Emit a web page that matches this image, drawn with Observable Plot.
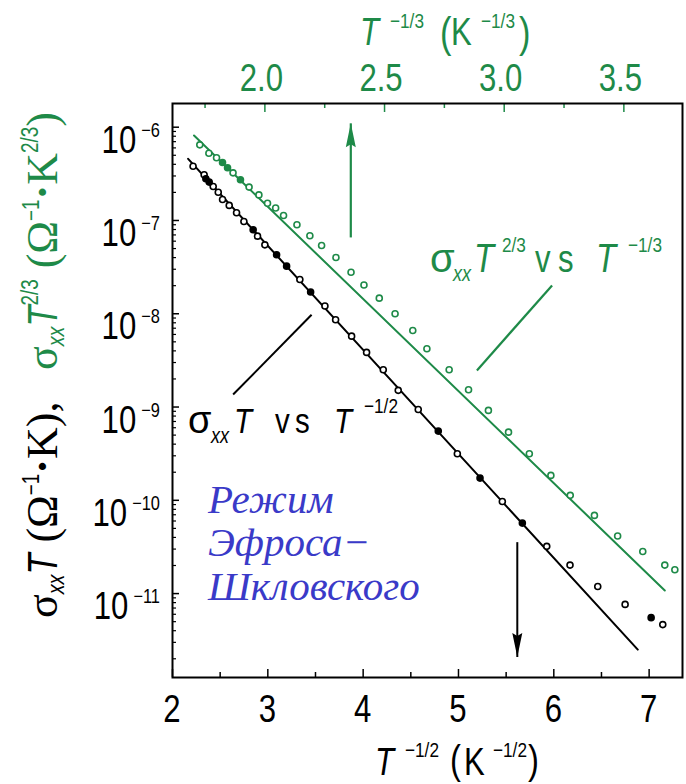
<!DOCTYPE html>
<html><head><meta charset="utf-8">
<script src="https://cdn.jsdelivr.net/npm/d3@7"></script>
<script src="https://cdn.jsdelivr.net/npm/@observablehq/plot@0.6"></script>
<style>
html,body{margin:0;padding:0;background:#fff;}
#chart svg{display:block;}
</style></head><body><div id="chart"></div>
<script>
const GREEN = "#1e8a48";
const BLUE = "#3a3ac8";
const SANS = '"Liberation Sans", Arial, sans-serif';
const SERIF = '"Liberation Serif", "Times New Roman", serif';
const NARROW_SCALE = 0.82; // condensed look for the sans lettering

// σxx·T (Ω⁻¹·K) against T^-1/2 (K^-1/2), bottom axis
const esX = [2.216,2.332,2.350,2.385,2.427,2.480,2.525,2.595,2.672,2.749,2.846,2.892,2.969,3.092,3.197,3.336,3.449,3.599,3.711,3.879,4.036,4.211,4.368,4.578,4.788,4.988,5.226,5.460,5.670,5.926,6.170,6.461,6.748,7.021,7.143];
const esY = [3.82e-7,3.09e-7,2.80e-7,2.58e-7,2.31e-7,2.01e-7,1.68e-7,1.45e-7,1.21e-7,9.75e-8,7.94e-8,6.79e-8,5.48e-8,4.29e-8,3.24e-8,2.33e-8,1.71e-8,1.21e-8,8.63e-9,5.75e-9,3.85e-9,2.51e-9,1.51e-9,9.42e-10,5.52e-10,3.16e-10,1.73e-10,9.72e-11,5.70e-11,3.21e-11,2.02e-11,1.19e-11,7.66e-12,5.52e-12,4.65e-12];
const esRun = ["a","a","b","b","a","a","a","a","a","a","b","a","a","b","b","a","b","a","a","a","a","a","a","a","b","a","b","a","b","a","a","a","a","b","a"];
// straight-line fit of the σxx·T data
const esFitX = [2.164, 6.881];
const esFitY = [4.58e-7, 2.51e-12];

// σxx·T^2/3 (Ω⁻¹·K^2/3) against T^-1/3 (K^-1/3), top axis
const mX = [1.728,1.766,1.798,1.823,1.844,1.867,1.898,1.934,1.975,2.011,2.045,2.078,2.134,2.188,2.237,2.297,2.360,2.414,2.478,2.544,2.618,2.677,2.770,2.851,2.934,3.018,3.105,3.195,3.276,3.377,3.474,3.579,3.671,3.713];
const mY = [6.47e-7,5.26e-7,4.70e-7,4.19e-7,3.67e-7,3.24e-7,2.73e-7,2.28e-7,1.88e-7,1.53e-7,1.36e-7,1.13e-7,8.99e-8,6.85e-8,5.40e-8,4.01e-8,2.79e-8,2.03e-8,1.47e-8,1.00e-8,6.62e-9,4.22e-9,2.51e-9,1.53e-9,9.20e-10,5.38e-10,3.16e-10,1.85e-10,1.13e-10,6.89e-11,4.14e-11,2.83e-11,2.02e-11,1.80e-11];
const mRun = ["a","a","a","b","b","a","b","a","a","a","a","a","a","a","a","a","a","a","a","a","a","a","a","a","a","a","a","a","a","a","a","a","a","a"];
const mFitX = [1.704, 3.671];
const mFitY = [8.15e-7, 1.08e-11];

// axis extents and ticks
const xDomain = [2, 7.35];
const topDomain = [1.614, 3.745];
const yDomain = [1.26e-12, 1.795e-6];
const xTicks = [2, 3, 4, 5, 6, 7];
const xMinor = [2.5, 3.5, 4.5, 5.5, 6.5];
const topTicks = [2.0, 2.5, 3.0, 3.5];
const topMinor = [1.75, 2.25, 2.75, 3.25];
const yTicks = [1e-6, 1e-7, 1e-8, 1e-9, 1e-10, 1e-11];

// annotation arrows (which axis applies) and leader lines
const upArrow = {x: 2.359, y1: 6.58e-8, y2: 1.10e-6};      // top-axis units
const downArrow = {x: 5.617, y1: 3.56e-11, y2: 2.09e-12};  // bottom-axis units
const esLeader = {x1: 2.636, y1: 1.36e-9, x2: 3.459, y2: 9.75e-9};
const mLeader = {x1: 2.886, y1: 2.47e-9, x2: 3.200, y2: 2.01e-8};

// the top axis is linear in T^-1/3 and shares the frame with the bottom axis
const toBottom = v => xDomain[0] + (v - topDomain[0]) * (xDomain[1] - xDomain[0]) / (topDomain[1] - topDomain[0]);

const W = 686, H = 784, ML = 172, MR = 4, MT = 103, MB = 107;
const FW = W - ML - MR, FH = H - MT - MB;

const yMinor = [];
for (let e = -12; e <= -6; e++) for (let k = 2; k <= 9; k++) {
  const v = k * Math.pow(10, e);
  if (v > yDomain[0] && v < yDomain[1]) yMinor.push(v);
}

const es = esX.map((x, i) => ({x, y: esY[i], run: esRun[i]}));
const mt = mX.map((v, i) => ({x: toBottom(v), y: mY[i], run: mRun[i]}));
const esFit = esFitX.map((x, i) => ({x, y: esFitY[i]}));
const mFit = mFitX.map((v, i) => ({x: toBottom(v), y: mFitY[i]}));

// narrow filled arrowhead, tip at the anchor, pointing up
const arrowHead = {draw(ctx) { ctx.moveTo(0, 0); ctx.lineTo(5, 24); ctx.lineTo(0, 21); ctx.lineTo(-5, 24); ctx.closePath(); }};

const chart = Plot.plot({
  width: W, height: H,
  marginLeft: ML, marginRight: MR, marginTop: MT, marginBottom: MB,
  x: {domain: xDomain, axis: null},
  y: {type: "log", domain: yDomain, axis: null},
  style: {background: "white", fontFamily: SANS},
  marks: [
    // ticks drawn inward from the frame
    Plot.tickY(yTicks, {y: d => d, insetRight: FW - 7, stroke: "black", strokeWidth: 1.5}),
    Plot.tickY(yMinor, {y: d => d, insetRight: FW - 4, stroke: "black", strokeWidth: 1.2}),
    Plot.tickX(xTicks, {x: d => d, insetTop: FH - 8, stroke: "black", strokeWidth: 1.5}),
    Plot.tickX(xMinor, {x: d => d, insetTop: FH - 5, stroke: "black", strokeWidth: 1.5}),
    Plot.tickX(topTicks, {x: toBottom, insetBottom: FH - 9, stroke: GREEN, strokeWidth: 1.5}),
    Plot.tickX(topMinor, {x: toBottom, insetBottom: FH - 5, stroke: GREEN, strokeWidth: 1.5}),
    // fits
    Plot.line(esFit, {x: "x", y: "y", stroke: "black", strokeWidth: 2}),
    Plot.line(mFit, {x: "x", y: "y", stroke: GREEN, strokeWidth: 2}),
    // data
    Plot.dot(es.filter(d => d.run === "a"), {x: "x", y: "y", r: 3, stroke: "black", strokeWidth: 1.6, fill: "white"}),
    Plot.dot(es.filter(d => d.run === "b"), {x: "x", y: "y", r: 3, stroke: "black", strokeWidth: 1.6, fill: "black"}),
    Plot.dot(mt.filter(d => d.run === "a"), {x: "x", y: "y", r: 3, stroke: GREEN, strokeWidth: 1.6, fill: "white"}),
    Plot.dot(mt.filter(d => d.run === "b"), {x: "x", y: "y", r: 3, stroke: GREEN, strokeWidth: 1.6, fill: GREEN}),
    // leaders
    Plot.link([esLeader], {x1: "x1", y1: "y1", x2: "x2", y2: "y2", stroke: "black", strokeWidth: 2}),
    Plot.link([mLeader], {x1: d => toBottom(d.x1), y1: "y1", x2: d => toBottom(d.x2), y2: "y2", stroke: GREEN, strokeWidth: 2.2}),
    // arrows
    Plot.link([upArrow], {x: d => toBottom(d.x), y1: "y1", y2: "y2", stroke: GREEN, strokeWidth: 2.2}),
    Plot.dot([upArrow], {x: d => toBottom(d.x), y: "y2", symbol: arrowHead, fill: GREEN, stroke: "none", r: 5}),
    Plot.link([downArrow], {x: "x", y1: "y1", y2: "y2", stroke: "black", strokeWidth: 2}),
    Plot.dot([downArrow], {x: "x", y: "y2", symbol: arrowHead, rotate: 180, fill: "black", stroke: "none", r: 5}),
    Plot.frame({stroke: "black", strokeWidth: 2})
  ]
});

document.getElementById("chart").appendChild(chart);
const svg = d3.select(chart);

// Lays out a run of text pieces left to right; sans pieces are condensed.
// Each piece: t, size, font, italic, bold, sx, dx (extra gap), dy (baseline shift),
// x/y (absolute placement, optional).
function run(parent, parts, {x = 0, y = 0, anchor = "start", fill = "black"} = {}) {
  const g = parent.append("g").attr("fill", fill);
  const items = parts.map(p => {
    const font = p.font || SANS;
    const t = g.append("text")
      .attr("text-anchor", "start")
      .attr("font-family", font)
      .attr("font-size", p.size)
      .attr("font-style", p.italic ? "italic" : "normal")
      .attr("font-weight", p.bold ? "bold" : "normal")
      .text(p.t);
    if (p.fill) t.attr("fill", p.fill);
    const sx = p.sx != null ? p.sx : (font === SANS ? NARROW_SCALE : 1);
    return {t, sx, w: t.node().getComputedTextLength() * sx, p};
  });
  const total = d3.sum(items, d => d.w + (d.p.dx || 0));
  let cx = x - (anchor === "end" ? total : anchor === "middle" ? total / 2 : 0);
  for (const it of items) {
    if (it.p.x != null) cx = it.p.x;
    cx += it.p.dx || 0;
    const by = it.p.y != null ? it.p.y : y + (it.p.dy || 0);
    it.t.attr("transform", `translate(${cx},${by}) scale(${it.sx},1)`);
    cx += it.w;
  }
  return g;
}

const xS = chart.scale("x");
const yS = chart.scale("y");

// bottom tick labels
for (const v of xTicks) run(svg, [{t: String(v), size: 38}], {x: xS.apply(v), y: 722, anchor: "middle"});
// top tick labels
for (const v of topTicks) run(svg, [{t: v.toFixed(1), size: 38}], {x: xS.apply(toBottom(v)) - 3, y: 91, anchor: "middle", fill: GREEN});

// y tick labels 10^n
for (const v of yTicks) {
  const py = yS.apply(v);
  const e = Math.round(Math.log10(v));
  run(svg, [
    {t: "10", size: 38, dy: 26},
    {t: "\u2212" + Math.abs(e), size: 20, dx: 5, dy: 10}
  ], {x: 160, y: py, anchor: "end"});
}

// bottom axis title
run(svg, [
  {t: "T", x: 375, y: 775, italic: true, size: 38},
  {t: "\u22121/2", x: 405, y: 757, size: 21},
  {t: "(", x: 450, y: 774, size: 40},
  {t: "K", x: 464, y: 775, size: 38},
  {t: "\u22121/2", x: 493, y: 757, size: 21},
  {t: ")", x: 528, y: 774, size: 40}
]);

// top axis title
run(svg, [
  {t: "T", x: 360, y: 45, italic: true, size: 38},
  {t: "\u22121/3", x: 390, y: 28, size: 21},
  {t: "(", x: 440, y: 47, size: 42},
  {t: "K", x: 451, y: 45, size: 38},
  {t: "\u22121/3", x: 481, y: 28, size: 21},
  {t: ")", x: 519, y: 47, size: 42}
], {fill: GREEN});

// rotated y title, in two colored parts
const gB = svg.append("g").attr("transform", "translate(57,618) rotate(-90)");
run(gB, [
  {t: "\u03C3", font: SERIF, size: 44},
  {t: "xx", italic: true, size: 24, dy: 7},
  {t: "T", italic: true, size: 42},
  {t: "(\u03A9", font: SERIF, size: 44, dx: 11},
  {t: "\u22121", size: 23, dy: -18},
  {t: "\u00B7", font: SERIF, size: 44, bold: true},
  {t: "K),", font: SERIF, size: 44}
]);
const gG = svg.append("g").attr("transform", "translate(57,370) rotate(-90)");
run(gG, [
  {t: "\u03C3", font: SERIF, size: 44},
  {t: "xx", italic: true, size: 24, dy: 7},
  {t: "T", italic: true, size: 42},
  {t: "2/3", size: 23, dy: -19},
  {t: "(\u03A9", font: SERIF, size: 44, dx: 11},
  {t: "\u22121", size: 23, dy: -18},
  {t: "\u00B7", font: SERIF, size: 44, bold: true},
  {t: "K", font: SERIF, size: 44},
  {t: "2/3", size: 23, dy: -19},
  {t: ")", font: SERIF, size: 44}
], {fill: GREEN});

// series labels
run(svg, [
  {t: "\u03C3", x: 188, y: 433, size: 38, sx: 1},
  {t: "xx", x: 211, y: 443, italic: true, size: 22},
  {t: "T", x: 234, y: 433, italic: true, size: 36},
  {t: "v", x: 275, y: 433, size: 36},
  {t: "s", x: 295, y: 433, size: 36},
  {t: "T", x: 334, y: 433, italic: true, size: 36},
  {t: "\u22121/2", x: 364, y: 413, size: 21}
]);
run(svg, [
  {t: "\u03C3", x: 430, y: 272, size: 40, sx: 1},
  {t: "xx", x: 453, y: 281, italic: true, size: 22},
  {t: "T", x: 474, y: 272, italic: true, size: 40},
  {t: "2/3", x: 502, y: 252, size: 21},
  {t: "v", x: 535, y: 272, size: 38},
  {t: "s", x: 558, y: 272, size: 38},
  {t: "T", x: 596, y: 272, italic: true, size: 40},
  {t: "\u22121/3", x: 628, y: 252, size: 21}
], {fill: GREEN});

// regime caption
run(svg, [
  {t: "Режим", x: 208, y: 513, font: SERIF, italic: true, size: 41},
  {t: "Эфроса\u2212", x: 208, y: 556, font: SERIF, italic: true, size: 41},
  {t: "Шкловского", x: 208, y: 600, font: SERIF, italic: true, size: 41}
], {fill: BLUE});
</script></body></html>
